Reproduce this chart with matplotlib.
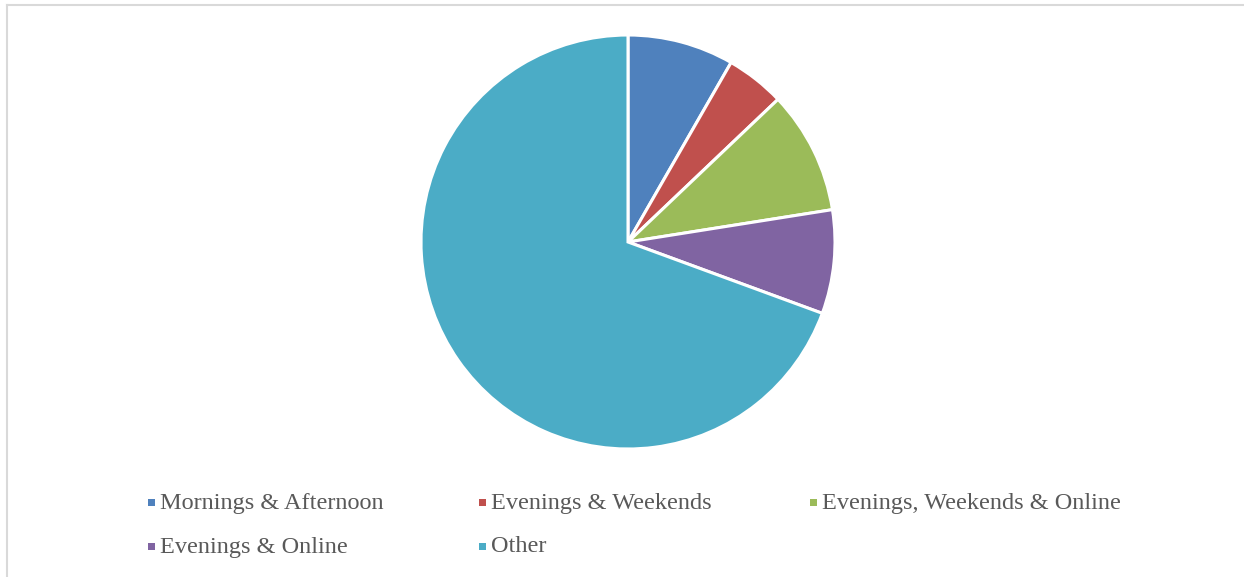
import matplotlib.pyplot as plt
from matplotlib.patches import Rectangle
from matplotlib.lines import Line2D

labels = ["Mornings & Afternoon", "Evenings & Weekends", "Evenings, Weekends & Online",
          "Evenings & Online", "Other"]
shares = [8.3, 4.6, 9.6, 8.1, 69.4]
colors = ["#4F81BD", "#C0504D", "#9BBB59", "#8064A2", "#4BACC6"]

W, H = 1244, 577
fig = plt.figure(figsize=(W / 100, H / 100), dpi=100)

# pie centred at (628, 242) px with radius ~207 px
r = 207
ax = fig.add_axes([(628 - r) / W, 1 - (242 + r) / H, 2 * r / W, 2 * r / H])
ax.pie(shares, colors=colors, startangle=90, counterclock=False,
       wedgeprops=dict(edgecolor="white", linewidth=2.2))
ax.set_aspect("equal")
ax.set_xlim(-1, 1)
ax.set_ylim(-1, 1)

# chart area border (only top and left visible)
fig.add_artist(Line2D([6.5 / W, 6.5 / W], [0, 1 - 4.5 / H], color="#d9d9d9", lw=1.5))
fig.add_artist(Line2D([6.5 / W, 1243 / W], [1 - 4.5 / H, 1 - 4.5 / H], color="#d9d9d9", lw=1.5))

# legend, three columns
col_x = [148, 479, 810]
row_y = [502, 546]
for i, (lab, c) in enumerate(zip(labels, colors)):
    x = col_x[i % 3]
    y = row_y[i // 3]
    fig.add_artist(Rectangle((x / W, 1 - (y + 4) / H), 7 / W, 7 / H,
                             facecolor=c, edgecolor="none"))
    fig.text((x + 12) / W, 1 - (y + 1) / H, lab, fontsize=17.5, color="#595959",
             family="Liberation Serif", va="center", ha="left")

fig.savefig("out.png", dpi=100)
